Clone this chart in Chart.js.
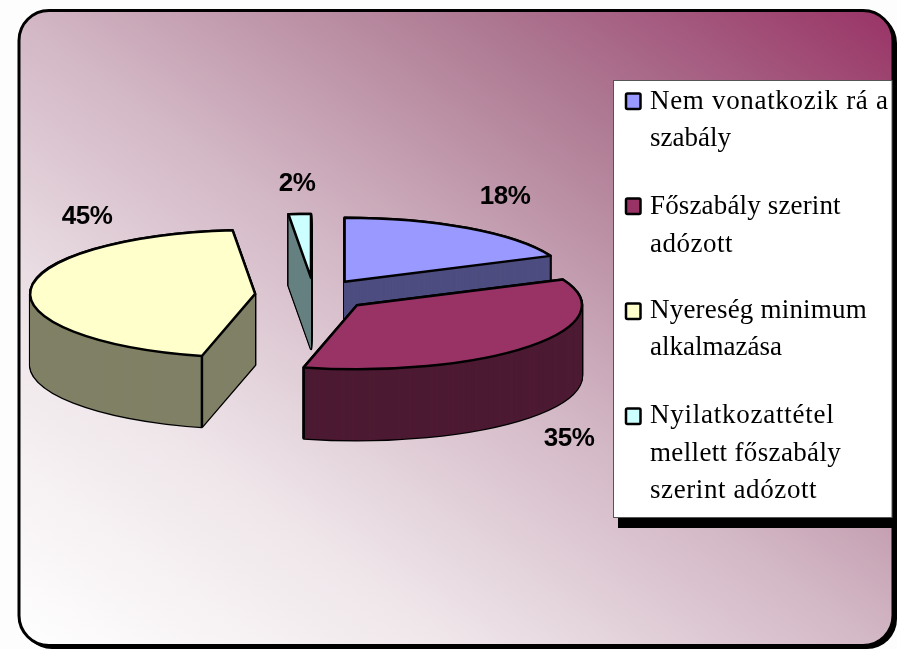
<!DOCTYPE html>
<html>
<head>
<meta charset="utf-8">
<style>html,body{margin:0;padding:0;background:#fdfdfd;overflow:hidden}canvas{display:block}</style>
<script src="https://cdn.jsdelivr.net/npm/chart.js@4/dist/chart.umd.js"></script>
</head>
<body>
<canvas id="c" width="897" height="649"></canvas>
<script>
const categories = ['Nem vonatkozik rá a szabály','Főszabály szerint adózott','Nyereség minimum alkalmazása','Nyilatkozattétel mellett főszabály szerint adózott'];
const values = [18.4,35.4,44.6,1.6];
const topColors = ['#9999ff','#993366','#ffffcc','#ccffff'];
const sideColors = ['#4d4d80','#4d1a33','#808066','#668080'];
const explode = [56,56,59,60];
const legendLines = [['Nem vonatkozik rá a','szabály'],['Főszabály szerint','adózott'],['Nyereség minimum','alkalmazása'],['Nyilatkozattétel','mellett főszabály','szerint adózott']];
const legendTracking = [[0.68,0],[0.15,0.5],[0.2,0],[0.75,0.35,0.6]];
const legendBaselines = [[109,146],[214,252],[318,355],[423,461,498]];
const legendMarkerTops = [93,198,303,408];
const labelAnchors = [[505,197],[569,439],[87,217],[297,184]];
const squash = 64/225, depth = 71, drawOrder = [3,0,2,1];

const pie3d = {
  id:'pie3d',
  beforeDraw(chart){
    const ctx = chart.ctx;
    ctx.save();
    ctx.fillStyle = '#fdfdfd'; ctx.fillRect(0,0,897,649);
    ctx.fillStyle = '#000';
    ctx.beginPath(); ctx.roundRect(22,13,875,636,30); ctx.fill();
    const g = ctx.createLinearGradient(758,-88,154,743);
    g.addColorStop(0,'#993366');
    g.addColorStop(0.25,'#ae7a93');
    g.addColorStop(0.5,'#d2b6c4');
    g.addColorStop(0.75,'#efe6ea');
    g.addColorStop(1,'#ffffff');
    ctx.fillStyle = g; ctx.strokeStyle = '#000'; ctx.lineWidth = 3;
    ctx.beginPath(); ctx.roundRect(19,10.5,874,635,30); ctx.fill(); ctx.stroke();
    ctx.restore();
  },
  beforeDatasetsDraw(chart){
    const ctx = chart.ctx, arcs = chart.getDatasetMeta(0).data;
    const nativeStroke = ctx.stroke;
    ctx.stroke = function(){ ctx.save(); ctx.setTransform(1,0,0,1,0,0); nativeStroke.call(ctx); ctx.restore(); };
    const place = (arc,i,dy,fn) => {
      const mid = (arc.startAngle+arc.endAngle)/2;
      ctx.save();
      ctx.translate(arc.x,arc.y+dy); ctx.scale(1,squash); ctx.translate(-arc.x,-arc.y);
      ctx.translate(Math.cos(mid)*explode[i],Math.sin(mid)*explode[i]);
      fn(); ctx.restore();
    };
    drawOrder.forEach(i => {
      const arc = arcs[i], base = arc.options;
      arc.options = Object.assign({},base,{backgroundColor:'#000',borderColor:'#000',borderWidth:2.5,borderJoinStyle:'round'});
      for(let d=depth;d>=0;d--) place(arc,i,d,()=>arc.draw(ctx));
      arc.options = Object.assign({},base,{backgroundColor:sideColors[i],borderWidth:0});
      for(let d=depth;d>=1;d--) place(arc,i,d,()=>arc.draw(ctx));
      const mid = (arc.startAngle+arc.endAngle)/2;
      [arc.startAngle,arc.endAngle].forEach(a => {
        if(Math.sin(a)<=0) return;
        const x = arc.x+Math.cos(mid)*explode[i]+Math.cos(a)*arc.outerRadius;
        const y = arc.y+(Math.sin(mid)*explode[i]+Math.sin(a)*arc.outerRadius)*squash;
        ctx.save(); ctx.strokeStyle='#000'; ctx.lineWidth=2.5;
        ctx.beginPath(); ctx.moveTo(x,y); ctx.lineTo(x,y+depth); nativeStroke.call(ctx); ctx.restore();
      });
      arc.options = Object.assign({},base,{borderColor:'#000',borderWidth:2.5,borderJoinStyle:'round'});
      place(arc,i,0,()=>arc.draw(ctx));
      arc.options = base;
    });
    delete ctx.stroke;
    return false;
  },
  afterDraw(chart){
    const ctx = chart.ctx;
    ctx.save();
    ctx.textBaseline='alphabetic';
    ctx.fillStyle='#000'; ctx.fillRect(618,90,279,438);
    ctx.fillStyle='#fff'; ctx.strokeStyle='#555'; ctx.lineWidth=1;
    ctx.fillRect(613.5,80.5,278.5,437); ctx.strokeRect(613.5,80.5,278.5,437);
    legendLines.forEach((lines,i) => {
      ctx.fillStyle=topColors[i]; ctx.strokeStyle='#000'; ctx.lineWidth=2.5;
      ctx.beginPath(); ctx.roundRect(626,legendMarkerTops[i]+0.5,14.5,15.5,1.5); ctx.fill(); ctx.stroke();
      ctx.fillStyle='#000'; ctx.textAlign='left'; ctx.font='27px "Liberation Serif"';
      lines.forEach((t,j) => {
        ctx.letterSpacing=legendTracking[i][j]+'px';
        ctx.fillText(t,650,legendBaselines[i][j]);
      });
    });
    ctx.letterSpacing='-0.5px';
    ctx.font='bold 26px "Liberation Sans"'; ctx.textAlign='center'; ctx.textBaseline='middle'; ctx.fillStyle='#000';
    values.forEach((v,i) => ctx.fillText(Math.round(v)+'%',labelAnchors[i][0],labelAnchors[i][1]));
    ctx.restore();
  }
};

new Chart(document.getElementById('c'),{
  type:'pie',
  data:{labels:categories,datasets:[{data:values,backgroundColor:topColors,borderWidth:0}]},
  options:{
    responsive:false,animation:false,radius:225,rotation:0,
    layout:{padding:{left:0,right:269,top:0,bottom:59}},
    plugins:{legend:{display:false},tooltip:{enabled:false}}
  },
  plugins:[pie3d]
});
</script>
</body>
</html>
